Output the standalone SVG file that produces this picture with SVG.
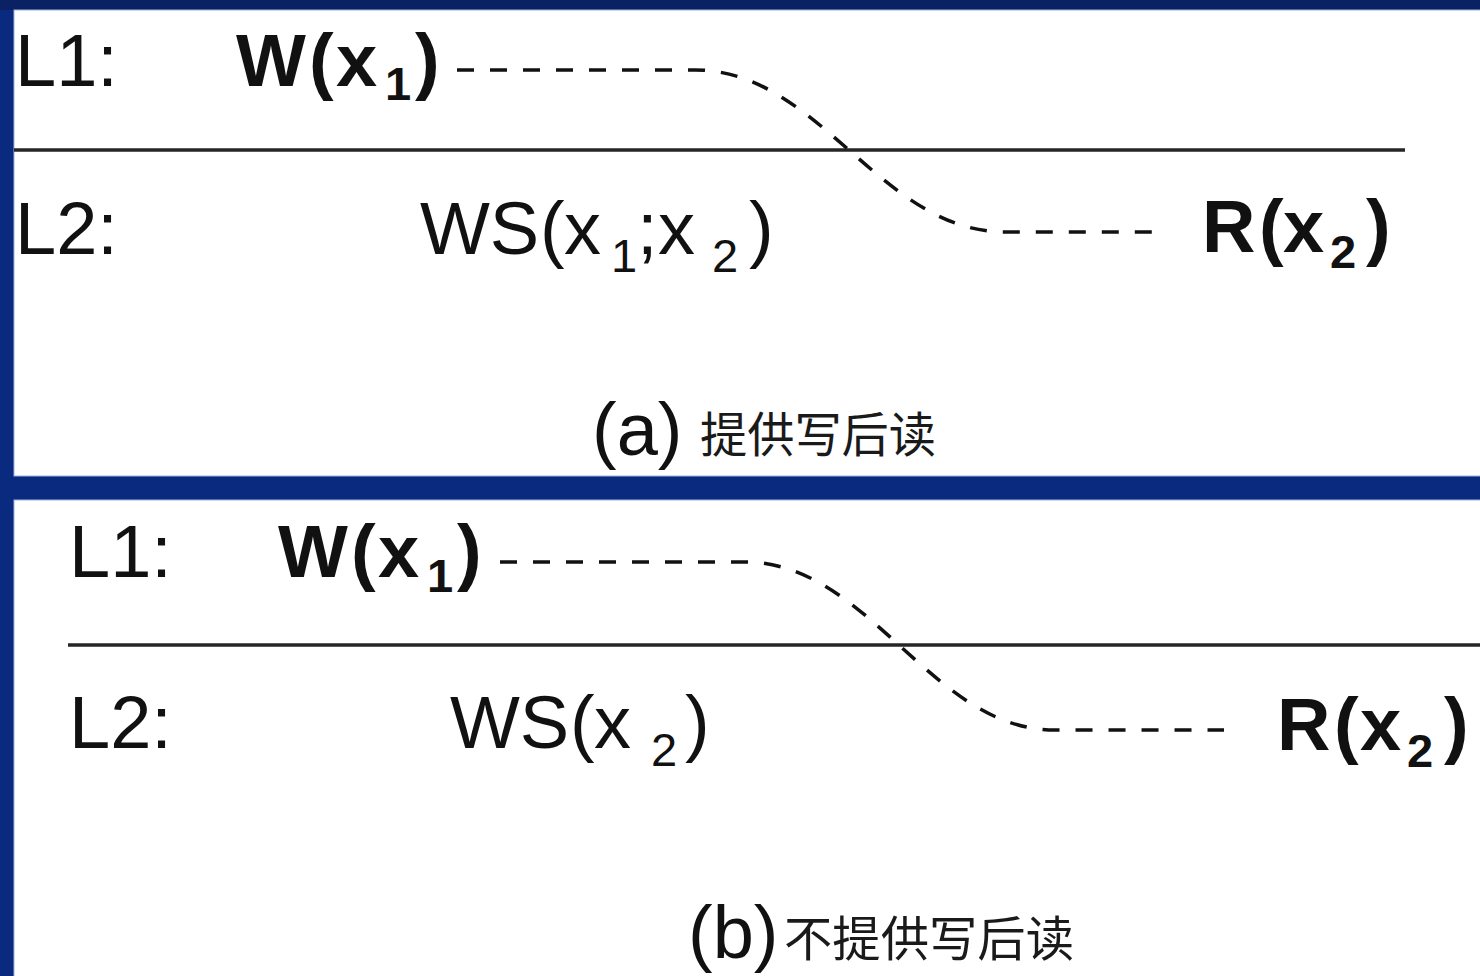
<svg xmlns="http://www.w3.org/2000/svg" width="1480" height="976" viewBox="0 0 1480 976">
<style>
.t{font-family:"Liberation Sans",Arial,sans-serif;font-size:74px;fill:#111}
.b{font-weight:bold}
.s{font-size:47px}
.hw{font-family:"Noto Sans CJK SC","Noto Sans CJK TC",sans-serif;font-size:48px;fill:#1a1a1a;font-weight:400}
.div{stroke:#262626;stroke-width:3.5;fill:none}
.dash{stroke:#111;stroke-width:3.5;fill:none;stroke-dasharray:17 16}
.panel{fill:#fff;stroke:#9fb4dc;stroke-width:1}
</style>
<rect x="0" y="0" width="1480" height="976" fill="#0a2a80"/>
<rect x="0" y="0" width="1480" height="10" fill="#0a2163"/>
<g id="panel-a">
<rect class="panel" x="14" y="10" width="1470" height="466"/>
<line class="div" x1="14" y1="150" x2="1405" y2="150"/>
</g>
<g id="panel-b">
<rect class="panel" x="14" y="500" width="1470" height="480"/>
<line class="div" x1="68" y1="645" x2="1480" y2="645"/>
</g>
<g id="connectors">
<path class="dash" d="M457,70 H695 C820,70 880,232 1005,232 H1166"/>
<path class="dash" d="M500,562 H745 C870,562 930,730 1055,730 H1224"/>
</g>
<g id="a-L1"><text class="t" x="15" y="86">L1:</text></g>
<g id="a-W"><text class="t b"><tspan x="236" y="86">W</tspan><tspan x="309" y="86">(</tspan><tspan x="336" y="86">x</tspan><tspan class="s" x="385" y="100">1</tspan><tspan x="415" y="86">)</tspan></text></g>
<g id="a-L2"><text class="t" x="15" y="254">L2:</text></g>
<g id="a-WS"><text class="t"><tspan x="420" y="254">WS</tspan><tspan x="540" y="254">(</tspan><tspan x="564" y="254">x</tspan><tspan class="s" x="611" y="272">1</tspan><tspan x="637" y="254">;</tspan><tspan x="658" y="254">x</tspan><tspan class="s" x="712" y="272">2</tspan><tspan x="749" y="254">)</tspan></text></g>
<g id="a-R"><text class="t b"><tspan x="1202" y="252">R</tspan><tspan x="1259" y="252">(</tspan><tspan x="1283" y="252">x</tspan><tspan class="s" x="1330" y="268">2</tspan><tspan x="1366" y="252">)</tspan></text></g>
<g id="a-caption"><text class="t" x="592" y="455">(a)</text><text class="hw" x="700" y="452" textLength="236" lengthAdjust="spacingAndGlyphs">提供写后读</text></g>
<g id="b-L1"><text class="t" x="69" y="577">L1:</text></g>
<g id="b-W"><text class="t b"><tspan x="278" y="577">W</tspan><tspan x="351" y="577">(</tspan><tspan x="378" y="577">x</tspan><tspan class="s" x="427" y="592">1</tspan><tspan x="457" y="577">)</tspan></text></g>
<g id="b-L2"><text class="t" x="69" y="748">L2:</text></g>
<g id="b-WS"><text class="t"><tspan x="450" y="748">WS</tspan><tspan x="570" y="748">(</tspan><tspan x="594" y="748">x</tspan><tspan class="s" x="651" y="766">2</tspan><tspan x="685" y="748">)</tspan></text></g>
<g id="b-R"><text class="t b"><tspan x="1277" y="750">R</tspan><tspan x="1334" y="750">(</tspan><tspan x="1360" y="750">x</tspan><tspan class="s" x="1407" y="767">2</tspan><tspan x="1444" y="750">)</tspan></text></g>
<g id="b-caption"><text class="t" x="688" y="958">(b)</text><text class="hw" x="784" y="956" textLength="290" lengthAdjust="spacingAndGlyphs">不提供写后读</text></g>
</svg>
